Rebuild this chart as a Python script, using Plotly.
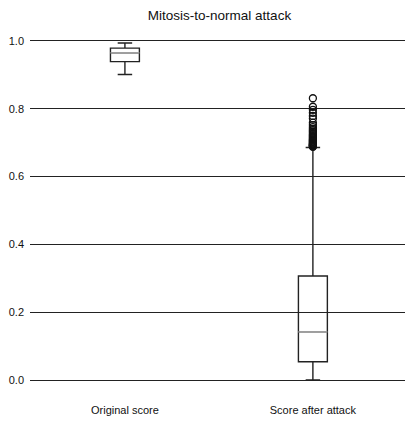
import plotly.graph_objects as go

categories = ["Original score", "Score after attack"]
q1 = [0.939, 0.054]
median = [0.965, 0.142]
q3 = [0.979, 0.307]
lower_whisker = [0.901, 0.0]
upper_whisker = [0.994, 0.686]
outliers_after = [0.831, 0.806, 0.797, 0.788, 0.779, 0.771, 0.759, 0.752, 0.746, 0.741,
                  0.737, 0.733, 0.729, 0.725, 0.722, 0.719, 0.716, 0.713, 0.710, 0.708,
                  0.706, 0.704, 0.702, 0.700, 0.698, 0.697, 0.695, 0.694, 0.693, 0.692,
                  0.691, 0.690, 0.689, 0.688]
y_ticks = [0.0, 0.2, 0.4, 0.6, 0.8, 1.0]

positions = list(range(len(categories)))
box_w = 0.154
font = "Liberation Sans, Arial, sans-serif"

fig = go.Figure()
fig.add_trace(go.Box(
    x=positions, q1=q1, median=median, q3=q3,
    lowerfence=lower_whisker, upperfence=upper_whisker,
    width=box_w, whiskerwidth=0.5,
    line=dict(color="#222222", width=1.4),
    fillcolor="rgba(0,0,0,0)", boxpoints=False, showlegend=False,
    hoverinfo="skip",
))
for i, m in enumerate(median):
    fig.add_trace(go.Scatter(
        x=[positions[i] - box_w / 2, positions[i] + box_w / 2], y=[m, m],
        mode="lines", line=dict(color="#aaaaaa", width=1.5),
        showlegend=False, hoverinfo="skip",
    ))
fig.add_trace(go.Scatter(
    x=[positions[1]] * len(outliers_after), y=outliers_after, mode="markers",
    marker=dict(symbol="circle-open", size=7, color="#111111", line=dict(width=1.3)),
    showlegend=False, hoverinfo="skip",
))

fig.update_layout(
    width=415, height=424,
    margin=dict(l=22, r=18, t=16, b=35, autoexpand=False),
    plot_bgcolor="white", paper_bgcolor="white",
    title=dict(text="Mitosis-to-normal attack", x=211.5 / 415, xanchor="center",
               y=1 - 3 / 424, yanchor="top", automargin=False,
               font=dict(family=font, size=13.5, color="#111111")),
    font=dict(family=font, size=11, color="#111111"),
)
fig.update_xaxes(
    range=[-0.505, 1.49], tickvals=positions, ticktext=categories,
    showgrid=False, zeroline=False, showline=False, ticks="",
    ticklabelstandoff=5, automargin=False,
)
fig.update_yaxes(
    range=[-0.05, 1.05], tickvals=y_ticks, ticktext=[f"{v:.1f}" for v in y_ticks],
    showgrid=True, gridcolor="#222222", gridwidth=1.3,
    zeroline=False, showline=False, ticks="", ticklabelstandoff=5,
    automargin=False,
)
fig.write_html("out.html")
